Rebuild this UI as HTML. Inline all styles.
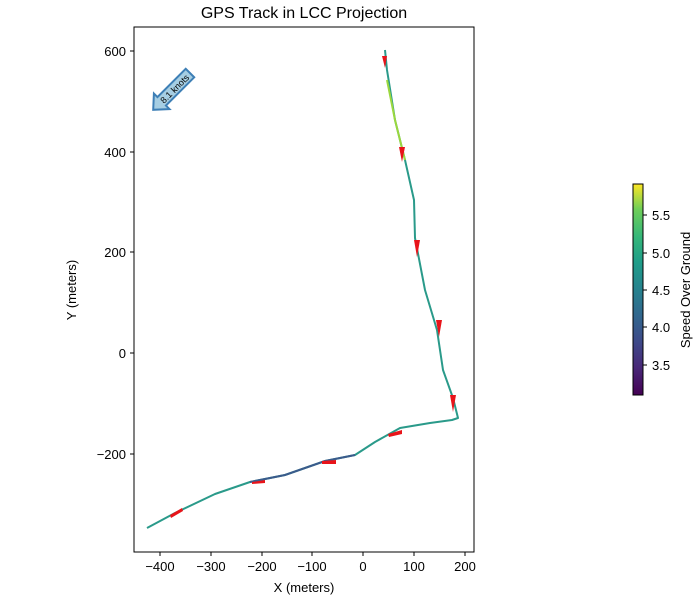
<!DOCTYPE html>
<html><head><style>body{margin:0;background:#fff}svg{font-family:"Liberation Sans","DejaVu Sans",sans-serif}</style></head><body>
<svg width="700" height="600" xmlns="http://www.w3.org/2000/svg">
<defs>
<linearGradient id="vir" x1="0" y1="1" x2="0" y2="0">
<stop offset="0" stop-color="#440154"/><stop offset="0.13" stop-color="#482878"/><stop offset="0.25" stop-color="#3e4989"/><stop offset="0.38" stop-color="#31688e"/><stop offset="0.5" stop-color="#26828e"/><stop offset="0.63" stop-color="#1f9e89"/><stop offset="0.75" stop-color="#35b779"/><stop offset="0.88" stop-color="#6ece58"/><stop offset="1" stop-color="#fde725"/>
</linearGradient>
</defs>
<text x="304" y="18" font-size="16" text-anchor="middle">GPS Track in LCC Projection</text>
<rect x="134" y="27" width="340" height="525" fill="none" stroke="#000" stroke-width="1"/>
<g font-size="13" text-anchor="middle">
<g stroke="#000"><line x1="160" y1="552" x2="160" y2="556"/><line x1="211" y1="552" x2="211" y2="556"/><line x1="262" y1="552" x2="262" y2="556"/><line x1="312" y1="552" x2="312" y2="556"/><line x1="363" y1="552" x2="363" y2="556"/><line x1="414" y1="552" x2="414" y2="556"/><line x1="465" y1="552" x2="465" y2="556"/></g>
<text x="160" y="571">−400</text><text x="211" y="571">−300</text><text x="262" y="571">−200</text><text x="312" y="571">−100</text><text x="363" y="571">0</text><text x="414" y="571">100</text><text x="465" y="571">200</text>
<text x="304" y="592">X (meters)</text>
</g>
<g font-size="13" text-anchor="end">
<g stroke="#000"><line x1="130" y1="51" x2="134" y2="51"/><line x1="130" y1="152" x2="134" y2="152"/><line x1="130" y1="252" x2="134" y2="252"/><line x1="130" y1="353" x2="134" y2="353"/><line x1="130" y1="454" x2="134" y2="454"/></g>
<text x="126" y="56">600</text><text x="126" y="157">400</text><text x="126" y="257">200</text><text x="126" y="358">0</text><text x="126" y="459">−200</text>
</g>
<text transform="translate(76,290) rotate(-90)" font-size="13" text-anchor="middle">Y (meters)</text>
<polyline fill="none" stroke="#2a9a8a" stroke-width="2" stroke-linejoin="round" points="147,528 175,513 215,494 250,482 285,475 325,461 355,455 375,442 400,428 430,423 452,420 458,418 453,398 443,370 437,330 425,290 415,238 414,200 405,160 395,120 387,70 385,50"/>
<polyline fill="none" stroke="#3b5b8c" stroke-width="2" points="250,482 285,475 325,461 355,455"/>
<polyline fill="none" stroke="#9bd83e" stroke-width="2" points="405,160 395,120 387,80"/>
<g fill="#e8141a">
<polygon points="170,515 182,508 183,511 171,518"/><polygon points="252,482 265,480 265,483 252,484" />
<polygon points="322,461 336,460 336,464 322,464"/><polygon points="388,434 402,430 402,434 389,437"/>
<polygon points="382,56 387,56 385,68"/><polygon points="399,147 405,147 402,162"/>
<polygon points="414,240 420,240 417,257"/><polygon points="436,320 442,320 439,337"/>
<polygon points="450,395 456,395 453,412"/>
</g>
<g transform="translate(173,90) rotate(-45)">
<polygon points="-28,0 -16,-11 -16,-6 24,-6 24,6 -16,6 -16,11" fill="#a6cee3" stroke="#3e7fb6" stroke-width="2"/>
<text x="2" y="3.5" font-size="9" text-anchor="middle">8.1 knots</text>
</g>
<rect x="633" y="184" width="10" height="211" fill="url(#vir)" stroke="#000" stroke-width="1"/>
<g font-size="13" stroke="#000"><line x1="643" y1="215" x2="647" y2="215"/><line x1="643" y1="253" x2="647" y2="253"/><line x1="643" y1="290" x2="647" y2="290"/><line x1="643" y1="327" x2="647" y2="327"/><line x1="643" y1="365" x2="647" y2="365"/></g>
<g font-size="13"><text x="652" y="220">5.5</text><text x="652" y="258">5.0</text><text x="652" y="295">4.5</text><text x="652" y="332">4.0</text><text x="652" y="370">3.5</text></g>
<text transform="translate(690,290) rotate(-90)" font-size="13" text-anchor="middle">Speed Over Ground</text>
</svg>
</body></html>
